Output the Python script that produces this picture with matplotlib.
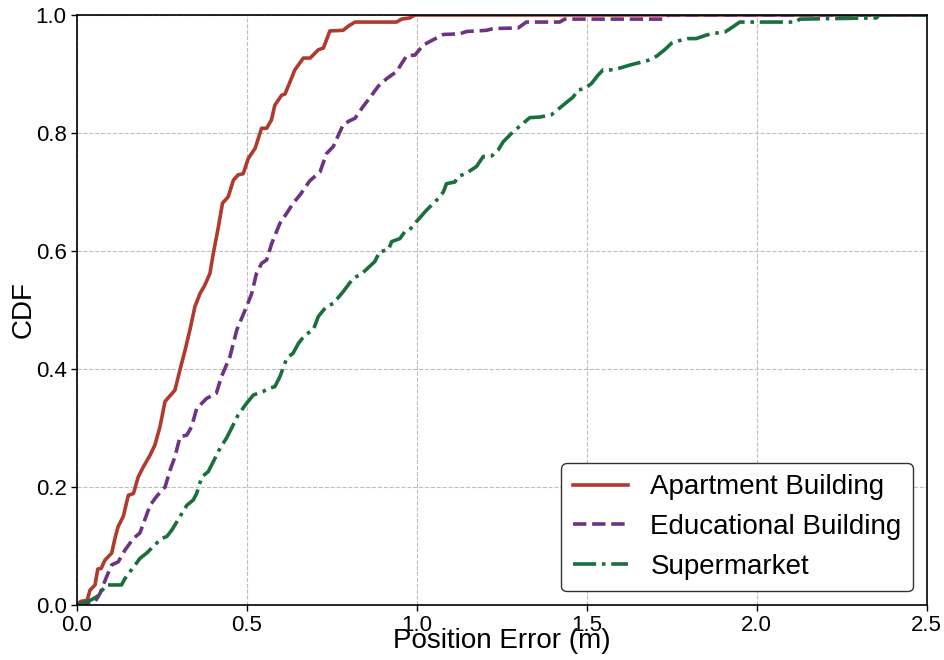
import numpy as np
from matplotlib import pyplot as plt

plt.rcParams['font.family'] = ['Liberation Sans', 'DejaVu Sans']

# CDF curves
apt_x = [0.0, 0.01, 0.03, 0.038, 0.053, 0.061, 0.071, 0.082, 0.102, 0.112, 0.121, 0.136,
         0.151, 0.166, 0.18, 0.195, 0.215, 0.229, 0.244, 0.259, 0.288, 0.308, 0.318, 0.332,
         0.347, 0.362, 0.376, 0.391, 0.401, 0.416, 0.428, 0.445, 0.46, 0.474, 0.489, 0.504,
         0.524, 0.543, 0.558, 0.572, 0.582, 0.602, 0.612, 0.641, 0.666, 0.686, 0.71, 0.725,
         0.744, 0.783, 0.798, 0.818, 0.94, 0.955, 0.979, 0.994, 2.5]
apt_y = [0.0, 0.006, 0.008, 0.025, 0.034, 0.061, 0.062, 0.076, 0.088, 0.114, 0.133, 0.15,
         0.186, 0.189, 0.217, 0.234, 0.254, 0.271, 0.302, 0.345, 0.364, 0.41, 0.432, 0.466,
         0.506, 0.528, 0.542, 0.562, 0.596, 0.641, 0.681, 0.692, 0.72, 0.729, 0.731, 0.757,
         0.774, 0.808, 0.808, 0.822, 0.847, 0.864, 0.866, 0.907, 0.927, 0.927, 0.941, 0.944,
         0.973, 0.974, 0.981, 0.988, 0.988, 0.993, 0.995, 1.0, 1.0]

edu_x = [0.0, 0.053, 0.068, 0.087, 0.102, 0.121, 0.141, 0.166, 0.185, 0.215, 0.234, 0.259,
         0.274, 0.288, 0.303, 0.323, 0.337, 0.352, 0.381, 0.41, 0.425, 0.45, 0.47, 0.499,
         0.514, 0.528, 0.543, 0.558, 0.573, 0.597, 0.617, 0.636, 0.656, 0.685, 0.715, 0.734,
         0.754, 0.783, 0.803, 0.818, 0.842, 0.862, 0.886, 0.911, 0.94, 0.97, 0.994, 1.019,
         1.038, 1.078, 1.126, 1.146, 1.205, 1.225, 1.298, 1.322, 1.42, 1.435, 1.729, 1.74, 2.5]
edu_y = [0.0, 0.006, 0.02, 0.048, 0.068, 0.073, 0.093, 0.113, 0.122, 0.169, 0.184, 0.2,
         0.229, 0.251, 0.285, 0.288, 0.302, 0.333, 0.35, 0.359, 0.387, 0.421, 0.466, 0.506,
         0.528, 0.562, 0.579, 0.585, 0.613, 0.647, 0.664, 0.681, 0.695, 0.719, 0.734, 0.765,
         0.777, 0.814, 0.821, 0.825, 0.845, 0.86, 0.879, 0.892, 0.904, 0.931, 0.932, 0.949,
         0.955, 0.967, 0.968, 0.972, 0.974, 0.977, 0.978, 0.988, 0.988, 0.993, 0.993, 1.0, 1.0]

sup_x = [0.0, 0.033, 0.058, 0.087, 0.131, 0.141, 0.171, 0.185, 0.205, 0.229, 0.249, 0.264,
         0.279, 0.303, 0.323, 0.342, 0.352, 0.367, 0.386, 0.401, 0.421, 0.44, 0.455, 0.474,
         0.499, 0.519, 0.548, 0.563, 0.582, 0.597, 0.617, 0.636, 0.651, 0.671, 0.695, 0.71,
         0.734, 0.754, 0.783, 0.813, 0.837, 0.876, 0.891, 0.916, 0.926, 0.95, 0.965, 0.979,
         0.999, 1.028, 1.058, 1.078, 1.087, 1.112, 1.121, 1.146, 1.175, 1.195, 1.22, 1.239,
         1.254, 1.283, 1.308, 1.332, 1.362, 1.396, 1.43, 1.46, 1.474, 1.494, 1.514, 1.533,
         1.548, 1.58, 1.626, 1.68, 1.705, 1.729, 1.749, 1.769, 1.798, 1.822, 1.852, 1.876,
         1.906, 1.925, 1.95, 2.117, 2.126, 2.352, 2.36, 2.5]
sup_y = [0.0, 0.006, 0.014, 0.034, 0.034, 0.045, 0.068, 0.079, 0.088, 0.102, 0.113, 0.116,
         0.127, 0.15, 0.169, 0.178, 0.189, 0.217, 0.226, 0.243, 0.266, 0.283, 0.3, 0.322,
         0.342, 0.356, 0.362, 0.367, 0.37, 0.387, 0.418, 0.427, 0.443, 0.458, 0.466, 0.489,
         0.506, 0.511, 0.531, 0.554, 0.561, 0.582, 0.599, 0.602, 0.616, 0.621, 0.633, 0.636,
         0.65, 0.669, 0.686, 0.7, 0.714, 0.717, 0.726, 0.732, 0.743, 0.76, 0.761, 0.771,
         0.785, 0.802, 0.814, 0.826, 0.827, 0.831, 0.847, 0.861, 0.873, 0.875, 0.884, 0.898,
         0.907, 0.907, 0.915, 0.923, 0.93, 0.941, 0.952, 0.956, 0.96, 0.96, 0.966, 0.969,
         0.971, 0.978, 0.988, 0.988, 0.993, 0.995, 1.0, 1.0]

labels = ['Apartment Building', 'Educational Building', 'Supermarket']
colors = ['#B03A2E', '#6C3483', '#196F3D']

fig = plt.figure(figsize=(9.44, 6.6), dpi=100)
ax = fig.add_axes([0.0816, 0.0833, 0.9, 0.894])

ax.plot(apt_x, apt_y, color=colors[0], lw=2.6, ls='-', label=labels[0])
ax.plot(edu_x, edu_y, color=colors[1], lw=2.6, ls='--', label=labels[1])
ax.plot(sup_x, sup_y, color=colors[2], lw=2.6, ls='-.', label=labels[2])

ax.set_xlim(0, 2.5)
ax.set_ylim(0, 1.0)
ax.set_xticks(np.arange(0, 2.51, 0.5))
ax.set_yticks(np.arange(0, 1.01, 0.2))
ax.tick_params(labelsize=16, length=4, width=1)
ax.grid(True, ls='--', color='#b0b0b0', lw=0.8, alpha=0.8)

ax.set_xlabel('Position Error (m)', fontsize=20)
ax.set_ylabel('CDF', fontsize=20)
ax.xaxis.set_label_coords(0.5, -0.039)
ax.yaxis.set_label_coords(-0.048, 0.5)

for s in ax.spines.values():
    s.set_color('black')
    s.set_linewidth(1.2)

leg = ax.legend(loc='lower right', fontsize=20, frameon=True, fancybox=True,
                edgecolor='#333333', framealpha=1.0)
leg.get_frame().set_linewidth(1.0)

plt.savefig('out.png', dpi=100)
